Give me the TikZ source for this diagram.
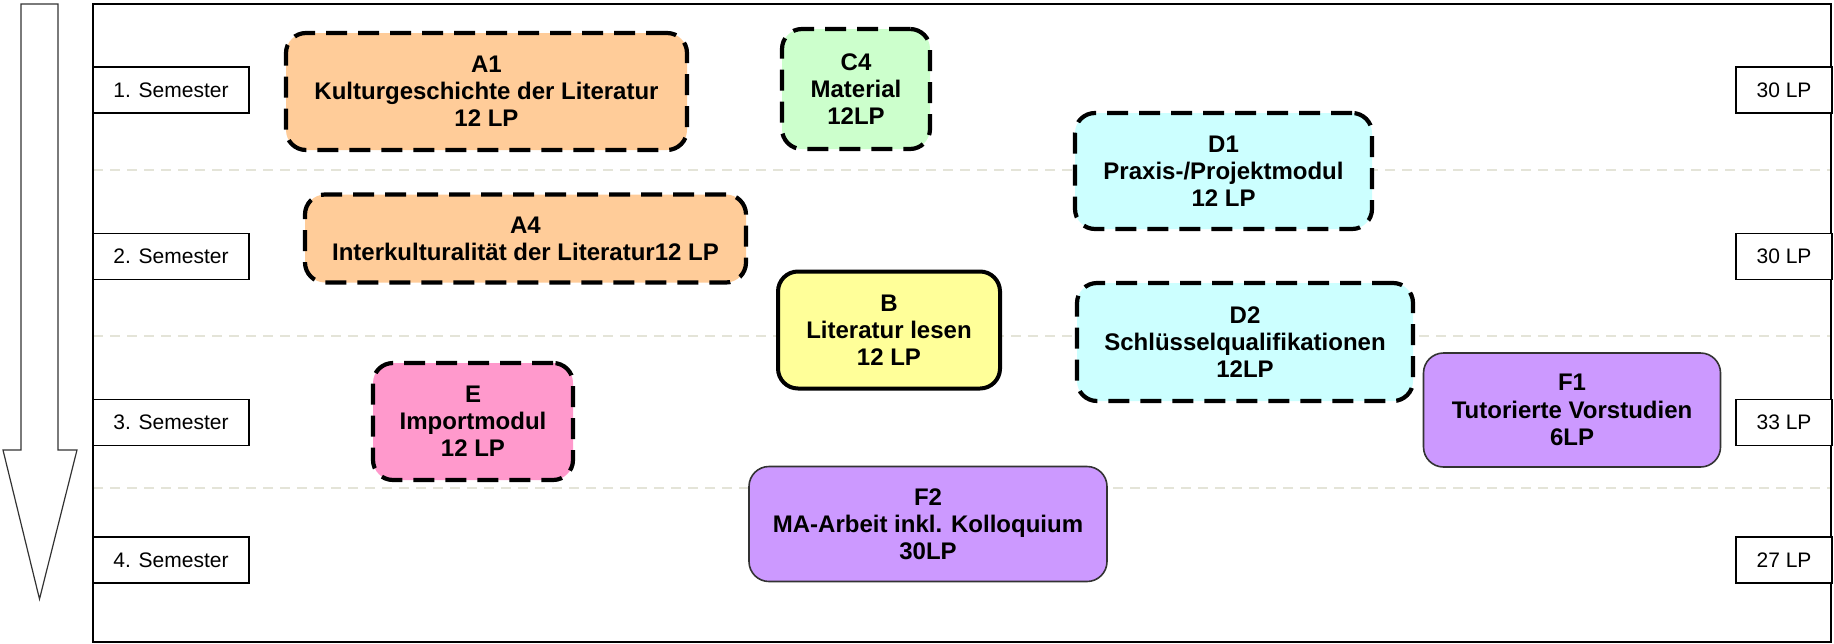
\documentclass[tikz,border=0pt]{standalone}
\usepackage{fontspec}
\setmainfont{Liberation Sans}
\usetikzlibrary{arrows.meta}

\definecolor{modorange}{HTML}{FFCC99}
\definecolor{modgreen}{HTML}{CCFFCC}
\definecolor{modcyan}{HTML}{CCFFFF}
\definecolor{modyellow}{HTML}{FFFF99}
\definecolor{modpink}{HTML}{FF99CC}
\definecolor{modviolet}{HTML}{CC99FF}
\definecolor{sepgray}{HTML}{E4E4D8}

\begin{document}
\begin{tikzpicture}[x=0.5pt, y=-0.5pt,
    module/.style={rectangle, rounded corners=10pt, align=center, inner sep=0pt,
      font=\fontsize{12}{13.6}\selectfont\bfseries},
    wahl/.style={module, draw=black, line width=2.1pt, dash pattern=on 10.5pt off 5.5pt},
    pflicht/.style={module, draw=black, line width=2pt},
    abschluss/.style={module, draw=black!80, line width=0.8pt},
    label/.style={rectangle, draw=black, line width=0.8pt, fill=white, inner sep=0pt,
      minimum height=23pt, font=\fontsize{10.5}{12}\selectfont},
    sepline/.style={draw=sepgray, line width=0.8pt, dash pattern=on 5pt off 3.5pt}]

  \useasboundingbox (0,0) rectangle (1834,643);

  % time arrow
  \draw[black!80, line width=0.6pt] (21,4) -- (58,4) -- (58,450) -- (77,450) --
    (39.5,599) -- (3,450) -- (21,450) -- cycle;

  % frame and semester separators
  \foreach \y in {170,336,488}
    \draw[sepline] (93,\y) -- (1831,\y);
  \draw[black, line width=0.8pt] (93,4) rectangle (1831,642);

  % semesters and credit points
  \foreach \n/\y/\lp in {1/90/30, 2/256.5/30, 3/422.5/33, 4/560/27} {
    \node[label, minimum width=78pt] (sem\n) at (171,\y) {\n. Semester};
    \node[label, minimum width=48pt] (lp\n) at (1784,\y) {\lp\ LP};
  }

  % modules
  \node[wahl, fill=modorange, minimum width=200.5pt, minimum height=58.5pt] (a1) at (486.5,91.5)
    {A1\\Kulturgeschichte der Literatur\\12 LP};
  \node[wahl, fill=modgreen, minimum width=74pt, minimum height=60pt] (c4) at (856,89)
    {C4\\Material\\12LP};
  \node[wahl, fill=modcyan, minimum width=148.5pt, minimum height=58pt] (d1) at (1223.5,171)
    {D1\\Praxis-/Projektmodul\\12 LP};
  \node[wahl, fill=modorange, minimum width=220.5pt, minimum height=44pt] (a4) at (525.5,238.5)
    {A4\\Interkulturalität der Literatur12 LP};
  \node[pflicht, fill=modyellow, minimum width=111pt, minimum height=58.5pt] (b) at (889,330)
    {B\\Literatur lesen\\12 LP};
  \node[wahl, fill=modcyan, minimum width=168pt, minimum height=59pt] (d2) at (1245,342)
    {D2\\Schlüsselqualifikationen\\12LP};
  \node[wahl, fill=modpink, minimum width=100pt, minimum height=58.5pt] (e) at (473,421.5)
    {E\\Importmodul\\12 LP};
  \node[abschluss, fill=modviolet, minimum width=148.5pt, minimum height=57pt] (f1) at (1572,410)
    {F1\\Tutorierte Vorstudien\\6LP};
  \node[abschluss, fill=modviolet, minimum width=179pt, minimum height=57.5pt] (f2) at (928,524)
    {F2\\MA-Arbeit inkl. Kolloquium\\30LP};

\end{tikzpicture}
\end{document}
